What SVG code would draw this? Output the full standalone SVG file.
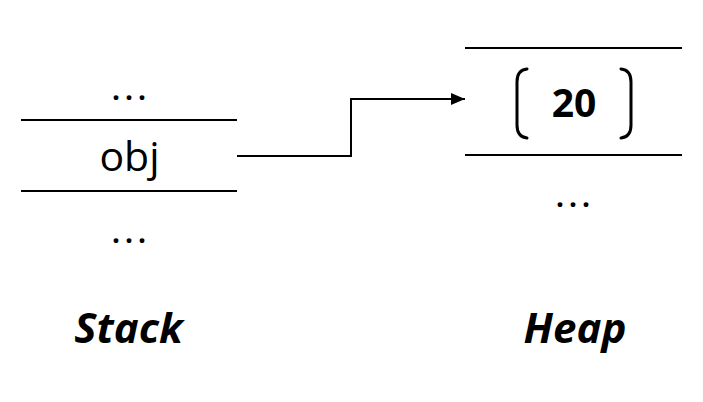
<svg xmlns="http://www.w3.org/2000/svg" width="703" height="402" viewBox="0 0 703 402">
<style>
.ln{stroke:#000;stroke-width:2;fill:none}
.br{stroke:#000;stroke-width:3;fill:none;stroke-linecap:round}
.t{font-family:"Open Sans","Noto Sans",sans-serif;fill:#000;text-anchor:middle}
.dots{font-family:"Open Sans","Noto Sans",sans-serif;font-size:28px;font-weight:bold;letter-spacing:5px;fill:#000;text-anchor:middle}
.lab{font-family:"Open Sans","Noto Sans",sans-serif;font-weight:bold;font-style:italic;font-size:42px;fill:#000;text-anchor:middle}
</style>
<defs>
<marker id="arr" markerWidth="14" markerHeight="12" refX="14" refY="6" orient="auto" markerUnits="userSpaceOnUse">
<path d="M0,0 L14,6 L0,12 Z" fill="#000"/>
</marker>
</defs>
<rect width="703" height="402" fill="#fff"/>
<g id="stack">
<text class="dots" x="131.5" y="100">...</text>
<line class="ln" x1="21" y1="120" x2="237" y2="120"/>
<text class="t" x="129.5" y="171" font-size="41">obj</text>
<line class="ln" x1="21" y1="191" x2="237" y2="191"/>
<text class="dots" x="131.5" y="243">...</text>
<text class="lab" x="128.5" y="343">Stack</text>
</g>
<g id="heap">
<line class="ln" x1="465" y1="48" x2="682" y2="48"/>
<path class="br" d="M527,69 Q517,70 517,82 L517,125 Q517,137 527,138"/>
<text class="t" x="574" y="117" font-size="39" font-weight="bold">20</text>
<path class="br" d="M621,69 Q631,70 631,82 L631,125 Q631,137 621,138"/>
<line class="ln" x1="465" y1="155" x2="682" y2="155"/>
<text class="dots" x="575.5" y="207">...</text>
<text class="lab" x="575" y="343">Heap</text>
</g>
<g id="connectors">
<polyline class="ln" points="237,156 351,156 351,99 465,99" marker-end="url(#arr)"/>
</g>
</svg>
